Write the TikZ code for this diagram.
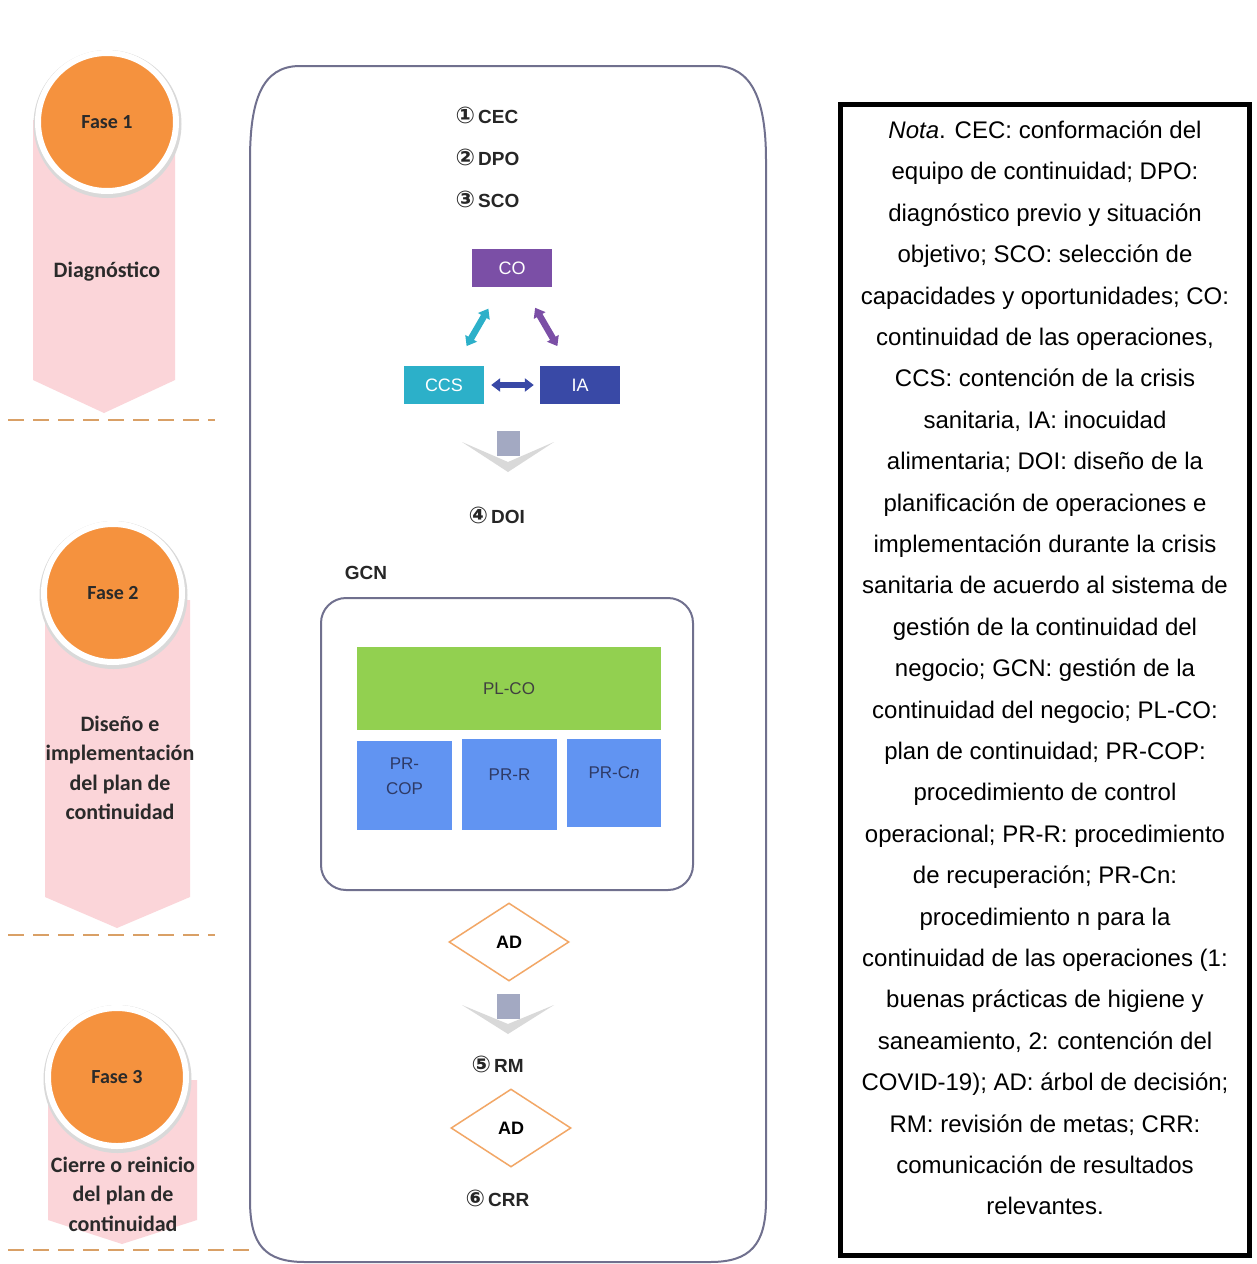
\documentclass[tikz,border=0pt]{standalone}
\usepackage{fontspec}
\setmainfont{Liberation Sans}
\newfontfamily\carlito{Carlito}
\newfontfamily\djv{DejaVu Sans}
\usetikzlibrary{shapes.geometric,arrows.meta}
\definecolor{pinkbg}{HTML}{FBD5D9}
\definecolor{orng}{HTML}{F5923E}
\definecolor{dashc}{HTML}{D9A066}
\definecolor{framec}{HTML}{70708E}
\definecolor{cocol}{HTML}{7B4FA6}
\definecolor{ccscol}{HTML}{2CB0C9}
\definecolor{iacol}{HTML}{3949A6}
\definecolor{plgreen}{HTML}{92D050}
\definecolor{prblue}{HTML}{6194F2}
\definecolor{prtext}{HTML}{2E3A66}
\definecolor{diamc}{HTML}{F2A766}
\definecolor{chev}{HTML}{A3A9C2}
\definecolor{phtext}{HTML}{2A2A2A}
\newcommand{\cnum}[1]{{\djv\bfseries\fontsize{23}{23}\selectfont #1}}
\begin{document}
\begin{tikzpicture}[x=1pt,y=-1pt,
  phase/.style={circle, fill=orng, draw=white, line width=6pt, minimum size=138pt, inner sep=0pt,
    font=\carlito\bfseries\fontsize{20}{22}\selectfont, text=phtext},
  phtxt/.style={align=center, font=\carlito\bfseries\fontsize{22}{29.5}\selectfont, text=phtext},
  dashl/.style={draw=dashc, line width=2pt, dash pattern=on 16pt off 9pt},
  lbl/.style={font=\bfseries\fontsize{19}{21}\selectfont, text=black!85},
  cbox/.style={minimum width=80pt, minimum height=38pt, inner sep=0pt, text=white,
    font=\fontsize{18}{19}\selectfont},
  prbox/.style={fill=prblue, inner sep=0pt},
  prtxt/.style={align=center, text=prtext, font=\fontsize{17}{25}\selectfont},
  dia/.style={diamond, draw=diamc, line width=1.5pt, fill=white, minimum width=120pt,
    minimum height=78pt, inner sep=0pt, font=\bfseries\fontsize{18}{20}\selectfont},
  dblarr/.style={line width=6.5pt, {Triangle[width=13pt,length=9pt]}-{Triangle[width=13pt,length=9pt]}},
  notetxt/.style={align=center, font=\fontsize{24}{41.4}\selectfont, text=black}
]
\path[use as bounding box, fill=white] (0,0) rectangle (1257,1264);

% left phase arrows
\fill[pinkbg] (33,120) -- (175,120) -- (175,380) -- (104,413) -- (33,380) -- cycle;
\fill[pinkbg] (45,600) -- (190,600) -- (190,897) -- (117,928) -- (45,897) -- cycle;
\fill[pinkbg] (48,1080) -- (197,1080) -- (197,1220) -- (122,1244) -- (48,1220) -- cycle;

\draw[dashl] (8,420) -- (215,420);
\draw[dashl] (8,935) -- (215,935);
\draw[dashl] (8,1250) -- (250,1250);

\fill[black!15] (107.5,124) circle (74);
\fill[black!15] (113.5,595) circle (74);
\fill[black!15] (117.5,1079) circle (74);
\node[phase] (f1) at (107,122) {Fase 1};
\node[phase] (f2) at (113,593) {Fase 2};
\node[phase] (f3) at (117,1077) {Fase 3};

\node[phtxt] (t1) at (107,272) {Diagnóstico};
\node[phtxt] (t2) at (120,768) {Diseño e\\implementación\\del plan de\\continuidad};
\node[phtxt] (t3) at (123,1194) {Cierre o reinicio\\del plan de\\continuidad};

% main frame
\draw[framec, line width=2pt] (300,66) -- (715,66) .. controls (752,66) and (766,100) .. (766,160)
  -- (766,1200) .. controls (766,1245) and (750,1262) .. (710,1262) -- (305,1262)
  .. controls (265,1262) and (250,1245) .. (250,1200) -- (250,160)
  .. controls (250,100) and (262,66) .. (300,66) -- cycle;

% step labels
\node[lbl, anchor=west] (cec) at (452,115) {\cnum{①}\,CEC};
\node[lbl, anchor=west] (dpo) at (452,157) {\cnum{②}\,DPO};
\node[lbl, anchor=west] (sco) at (452,199) {\cnum{③}\,SCO};

% triangle of boxes
\node[cbox, fill=cocol] (co) at (512,268) {CO};
\node[cbox, fill=ccscol] (ccs) at (444,385) {CCS};
\node[cbox, fill=iacol] (ia) at (580,385) {IA};
\draw[dblarr, ccscol, shorten <=45pt, shorten >=47pt] (ccs.center) -- (co.center);
\draw[dblarr, cocol, shorten <=46pt, shorten >=45pt] (co.center) -- (ia.center);
\draw[dblarr, iacol, shorten <=7pt, shorten >=6pt] (ccs.east) -- (ia.west);

% chevron 1
\fill[black!15] (462,442) -- (508,462) -- (554,442) -- (508,472) -- cycle;
\fill[chev] (497,431) rectangle (520,456);

\node[lbl, anchor=west] (doi) at (465,515) {\cnum{④}\,DOI};
\node[lbl] (gcnl) at (366,573) {GCN};

% GCN box
\node[draw=framec, line width=2pt, rounded corners=25pt, minimum width=372pt, minimum height=292pt, inner sep=0pt] (gcn) at (507,744) {};
\node[fill=plgreen, minimum width=304pt, minimum height=83pt, inner sep=0pt, text=black!75,
  font=\fontsize{17}{19}\selectfont] (plco) at (509,688.5) {PL-CO};
\node[prbox, minimum width=95pt, minimum height=89pt] (prcop) at (404.5,785.5) {};
\node[prbox, minimum width=95pt, minimum height=91pt] (prr) at (509.5,784.5) {};
\node[prbox, minimum width=94pt, minimum height=88pt] (prcn) at (614,783) {};
\node[prtxt] (prcopt) at ([yshift=9pt]prcop.center) {PR-\\COP};
\node[prtxt] (prrt) at ([yshift=9.5pt]prr.center) {PR-R};
\node[prtxt] (prcnt) at ([yshift=10pt]prcn.center) {PR-C\textit{n}};

% decisions
\node[dia] (ad1) at (509,942) {AD};
\fill[black!15] (462,1005) -- (508,1024) -- (554,1005) -- (508,1034) -- cycle;
\fill[chev] (497,994) rectangle (520,1019);
\node[lbl, anchor=west] (rm) at (468,1064) {\cnum{⑤}\,RM};
\node[dia] (ad2) at (511,1128) {AD};
\node[lbl, anchor=west] (crr) at (462,1198) {\cnum{⑥}\,CRR};

% note
\node[draw=black, line width=5pt, minimum width=409pt, minimum height=1151pt, inner sep=0pt] (notebox) at (1045,680) {};
\node[notetxt] (nota) at (1045,668) {\textit{Nota}. CEC: conformación del\\
equipo de continuidad; DPO:\\
diagnóstico previo y situación\\
objetivo; SCO: selección de\\
capacidades y oportunidades; CO:\\
continuidad de las operaciones,\\
CCS: contención de la crisis\\
sanitaria, IA: inocuidad\\
alimentaria; DOI: diseño de la\\
planificación de operaciones e\\
implementación durante la crisis\\
sanitaria de acuerdo al sistema de\\
gestión de la continuidad del\\
negocio; GCN: gestión de la\\
continuidad del negocio; PL-CO:\\
plan de continuidad; PR-COP:\\
procedimiento de control\\
operacional; PR-R: procedimiento\\
de recuperación; PR-Cn:\\
procedimiento n para la\\
continuidad de las operaciones (1:\\
buenas prácticas de higiene y\\
saneamiento, 2: contención del\\
COVID-19); AD: árbol de decisión;\\
RM: revisión de metas; CRR:\\
comunicación de resultados\\
relevantes.};
\end{tikzpicture}
\end{document}
